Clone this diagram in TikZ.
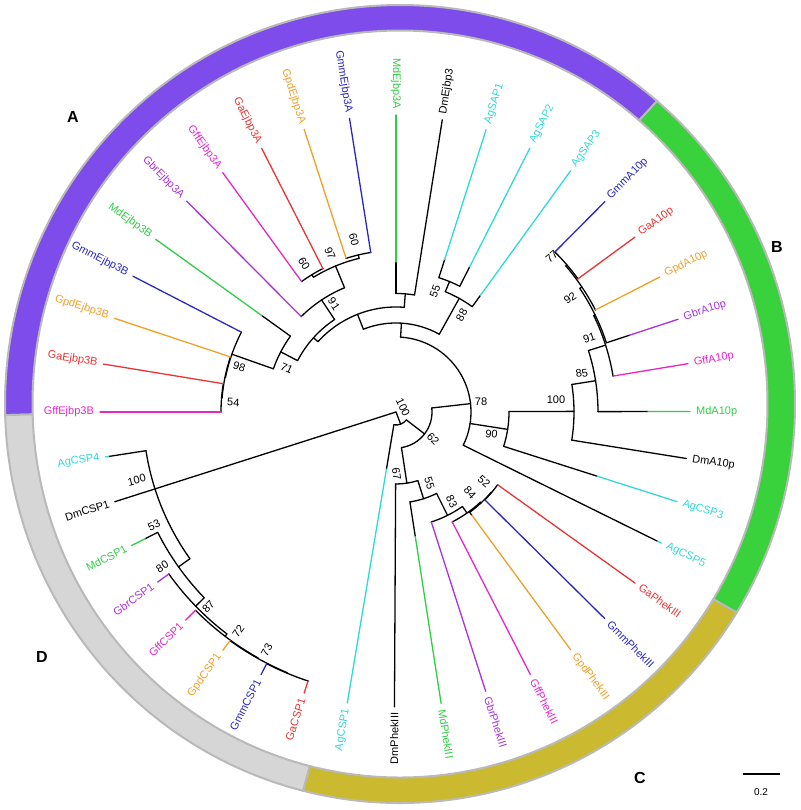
\documentclass[tikz,border=0pt]{standalone}
\usepackage{fontspec}
\setmainfont{Liberation Sans}
\usepackage{tikz}
\definecolor{gmm}{RGB}{40,40,190}
\definecolor{ga}{RGB}{232,52,52}
\definecolor{gpd}{RGB}{240,160,40}
\definecolor{gff}{RGB}{228,40,200}
\definecolor{gbr}{RGB}{170,50,220}
\definecolor{md}{RGB}{50,205,70}
\definecolor{ag}{RGB}{50,215,215}
\definecolor{purp}{RGB}{126,76,234}
\definecolor{grn}{RGB}{58,210,60}
\definecolor{olv}{RGB}{203,185,48}
\definecolor{gry}{RGB}{214,214,214}
\definecolor{ringln}{RGB}{185,185,185}
\tikzset{
  leaf/.style={font=\fontsize{11}{13}\selectfont,inner sep=0.5pt},
  boot/.style={font=\fontsize{11}{12}\selectfont,inner sep=0pt},
  clade/.style={font=\fontsize{16}{18}\selectfont\bfseries,inner sep=0pt},
  seg/.style={draw=ringln,line width=2},
}
\begin{document}
\begin{tikzpicture}[x=1pt,y=1pt,line width=1.3,line cap=round]
\useasboundingbox (0,0) rectangle (800,810);
% ring:
\begin{scope}[shift={(400,406)}]
\foreach \col/\aa/\bb in {purp/49.4/181.6,gry/181.6/255.8,olv/255.8/328.5,grn/-31.5/49.4}
  \path[seg,fill=\col] (\aa:395 and 399) arc[start angle=\aa,end angle=\bb,x radius=395,y radius=399]
    -- (\bb:367.5 and 373.5) arc[start angle=\bb,end angle=\aa,x radius=367.5,y radius=373.5] -- cycle;
\end{scope}
% tree:
\begin{scope}[shift={(396,398)}]
% arcs of the inner nodes (radius/from/to)
\foreach \rr/\aa/\bb in {161.5/99/108,161/117/125.9,158/103.5/121.5,134.5/112.5/134.8,
  174/152.7/168.5,174.5/161.6/175.35,175/170.7/180,130/144.3/160.6,111/123.6/152.45,
  118.5/81/90,105/85.5/138,141/63.1/72.3,130/54.1/67.7,89/60.9/111.5,
  225.5/36.2/45.2,224/27.1/40.7,221.5/18.2/33.9,220/9.4/26,202/0.1/17.7,178/-9.1/8.9,
  113/-17.7/0.2,75/-26.3/86.5,
  125/-44.7/-35.6,124.5/-53.7/-40.15,123.5/-62.9/-46.9,115.5/-72.2/-54.9,91/-81.2/-63.5,
  72/-90.3/-72.35,36/-81.3/6.4,13/-99.5/-37.5,
  283/242.8/251.9,282.5/234/247.35,282/224.7/240.7,279/215.5/232.7,267/206.8/224.1,253/188.8/215.45}
  \path[draw=black] (\aa:\rr) arc[start angle=\aa,end angle=\bb,radius=\rr];
% inner branches (angle/from/to)
\foreach \ang/\ra/\rb in {103.5/158/161.5,121.5/158/161,112.5/134.5/158,123.6/111/134.5,
  168.5/174/174.5,175.35/174.5/175,160.6/130/174,152.45/111/130,138/105/111,85.5/105/118.5,
  111.5/89/105,67.7/130/141,60.9/89/130,86.5/75/89,
  40.7/224/225.5,33.9/221.5/224,26/220/221.5,17.7/202/220,8.9/178/202,0.2/113/178,
  -8.85/75/113,6.4/36/75,
  -40.15/124.5/125,-46.9/123.5/124.5,-54.9/115.5/123.5,-63.5/91/115.5,-72.35/72/91,
  -81.3/36/72,-37.5/13/36,-69/0/13,
  247.35/282.5/283,240.7/282/282.5,232.7/279/282,224.1/267/279,215.45/253/267}
  \path[draw=black] (\ang:\ra) -- (\ang:\rb);
% leaves (angle/base/colour starts/tip/colour/name)
\foreach \ang/\rb/\rc/\rt/\col/\nm in {
  90/118.5/150/297/md/MdEjbp3A,81/118.5/295.6/295.6/black/DmEjbp3,
  99/161.5/161.5/297.3/gmm/GmmEjbp3A,108/161.5/161.5/297.3/gpd/GpdEjbp3A,
  117/161/161/296/ga/GaEjbp3A,125.9/161/161/295.5/gff/GffEjbp3A,
  134.8/134.5/134.5/297.2/gbr/GbrEjbp3A,144.3/130/165/296/md/MdEjbp3B,
  152.7/174/174/296/gmm/GmmEjbp3B,161.6/174.5/174.5/296.8/gpd/GpdEjbp3B,
  170.7/175/175/296.4/ga/GaEjbp3B,180/175/175/296/gff/GffEjbp3B,
  72.3/141/160/296.4/ag/AgSAP1,63.1/141/162.8/295.8/ag/AgSAP2,54.1/130/144/297.5/ag/AgSAP3,
  45.2/225.5/225.5/296.5/gmm/GmmA10p,36.2/225.5/225.5/296/ga/GaA10p,
  27.1/224/224/296.4/gpd/GpdA10p,18.2/221.5/246/297/gbr/GbrA10p,
  9.4/220/220/296/gff/GffA10p,0.1/202/252/294/md/MdA10p,
  -9.1/178/294/294/black/DmA10p,-17.7/113/211/295/ag/AgCSP3,-26.3/75/292/296/ag/AgCSP5,
  -35.6/125/125/294/ga/GaPhekIII,-44.7/125/125/293.7/gmm/GmmPhekIII,
  -53.7/124.5/128/294.8/gpd/GpdPhekIII,-62.9/123.5/123.5/294.9/gff/GffPhekIII,
  -72.2/115.5/115.5/293.5/gbr/GbrPhekIII,-81.2/91/126/294.9/md/MdPhekIII,
  -90.3/72/294.7/294.7/black/DmPhekIII,-99.5/13/58/295/ag/AgCSP1,
  251.9/283/283/295.7/ga/GaCSP1,242.8/283/283/295.3/gmm/GmmCSP1,
  234/282.5/282.5/294.6/gpd/GpdCSP1,224.7/282/282/295.9/gff/GffCSP1,
  215.5/279/279/292.8/gbr/GbrCSP1,206.8/267/281/296.2/md/MdCSP1,
  197.7/0/295/295/black/DmCSP1,188.8/253/291/294/ag/AgCSP4}{
  \path[draw=black] (\ang:\rb) -- (\ang:\rc);
  \path[draw=\col] (\ang:\rc) -- (\ang:\rt);
  \pgfmathtruncatemacro\fl{cos(\ang)<0.01}
  \pgfmathsetmacro\rl{\rt+5}
  \ifnum\fl=1 \def\an{east}\pgfmathsetmacro\ro{\ang+180}\else\def\an{west}\pgfmathsetmacro\ro{\ang}\fi
  \node[leaf,text=\col,anchor=\an,rotate=\ro] (\nm) at (\ang:\rl) {\nm};
}
\end{scope}
% bootstrap values
\node[boot,rotate=-76.5] (bA60a) at (354,570) {60};
\node[boot,rotate=-67.5] (bA97) at (330,556.7) {97};
\node[boot,rotate=-58.5] (bA60b) at (304,546.7) {60};
\node[boot,rotate=-56.4] (bA91) at (334,506) {91};
\node[boot,rotate=-25] (bA71) at (286.7,441.7) {71};
\node[boot,rotate=-17] (bA98) at (239.3,443.3) {98};
\node[boot,rotate=-4] (bA54) at (233.3,407.3) {54};
\node[boot,rotate=70] (bS55) at (435,518.3) {55};
\node[boot,rotate=62] (bS88) at (461.7,495) {88};
\node[boot,rotate=40.7] (bB77) at (551.7,553.3) {77};
\node[boot,rotate=33.9] (bB92) at (570,511.7) {92};
\node[boot,rotate=17.7] (bB91) at (589.3,471.7) {91};
\node[boot,rotate=8.9] (bB85) at (581.7,436.7) {85};
\node[boot] (bB100) at (556,410) {100};
\node[boot] (b78) at (481,408) {78};
\node[boot,rotate=-6] (b90) at (491.5,376) {90};
\node[boot,rotate=-45] (b62) at (433,371) {62};
\node[boot,rotate=-65] (b100) at (403,402.5) {100};
\node[boot,rotate=-81] (bC67) at (396.5,336) {67};
\node[boot,rotate=-72] (bC55) at (429.5,327) {55};
\node[boot,rotate=-63.5] (bC83) at (451.7,308.3) {83};
\node[boot,rotate=-47] (bC84) at (470,317.3) {84};
\node[boot,rotate=-40] (bC52) at (484,328.3) {52};
\node[boot,rotate=15] (bD100) at (136.7,330) {100};
\node[boot,rotate=25] (bD53) at (154,285) {53};
\node[boot,rotate=33] (bD80) at (162.3,243.3) {80};
\node[boot,rotate=46] (bD87) at (208.3,203.3) {87};
\node[boot,rotate=54] (bD72) at (238.3,178.3) {72};
\node[boot,rotate=61.5] (bD73) at (266.7,160) {73};
% clade letters
\node[clade] (cA) at (73,693) {A};
\node[clade] (cB) at (777,563) {B};
\node[clade] (cC) at (640,32) {C};
\node[clade] (cD) at (42,153) {D};
% scale bar
\coordinate (sbl) at (743,36);
\coordinate (sbr) at (780,36);
\path[draw=black,line cap=butt] (sbl) -- (sbr);
\node[boot,font=\fontsize{10}{12}\selectfont] (sbt) at (761,18) {0.2};
\end{tikzpicture}
\end{document}
